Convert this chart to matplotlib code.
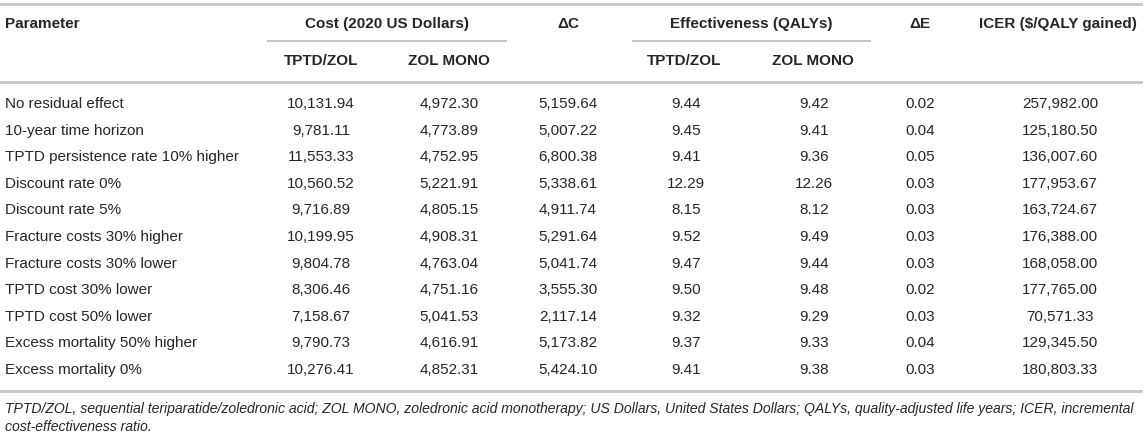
import matplotlib.pyplot as plt
import numpy as np

plt.rcParams['font.family'] = ['Liberation Sans', 'DejaVu Sans']

parameters = ["No residual effect", "10-year time horizon", "TPTD persistence rate 10% higher",
              "Discount rate 0%", "Discount rate 5%", "Fracture costs 30% higher",
              "Fracture costs 30% lower", "TPTD cost 30% lower", "TPTD cost 50% lower",
              "Excess mortality 50% higher", "Excess mortality 0%"]
cost_tptd = [10131.94, 9781.11, 11553.33, 10560.52, 9716.89, 10199.95, 9804.78, 8306.46, 7158.67, 9790.73, 10276.41]
cost_zol = [4972.30, 4773.89, 4752.95, 5221.91, 4805.15, 4908.31, 4763.04, 4751.16, 5041.53, 4616.91, 4852.31]
delta_c = [5159.64, 5007.22, 6800.38, 5338.61, 4911.74, 5291.64, 5041.74, 3555.30, 2117.14, 5173.82, 5424.10]
eff_tptd = [9.44, 9.45, 9.41, 12.29, 8.15, 9.52, 9.47, 9.50, 9.32, 9.37, 9.41]
eff_zol = [9.42, 9.41, 9.36, 12.26, 8.12, 9.49, 9.44, 9.48, 9.29, 9.33, 9.38]
delta_e = [0.02, 0.04, 0.05, 0.03, 0.03, 0.03, 0.03, 0.02, 0.03, 0.04, 0.03]
icer = [257982.00, 125180.50, 136007.60, 177953.67, 163724.67, 176388.00, 168058.00, 177765.00, 70571.33, 129345.50, 180803.33]

footnote_lines = ["TPTD/ZOL, sequential teriparatide/zoledronic acid; ZOL MONO, zoledronic acid monotherapy; "
                  "US Dollars, United States Dollars; QALYs, quality-adjusted life years; ICER, incremental",
                  "cost-effectiveness ratio."]

W, H = 1145, 436
fig = plt.figure(figsize=(W / 100, H / 100), dpi=100)
ax = fig.add_axes([0, 0, 1, 1])
ax.set_xlim(0, W)
ax.set_ylim(H, 0)
ax.axis('off')

txt = '#262626'
line_c = '#c4c4c4'
fs = 11

# column centres
col_x = [321, 449, 568, 686, 814, 920, 1060]

# horizontal rules
ax.plot([0, 1141], [4, 4], color=line_c, lw=2)
ax.plot([268, 506], [41, 41], color=line_c, lw=1.5)
ax.plot([633, 870], [41, 41], color=line_c, lw=1.5)
ax.plot([0, 1141], [82, 82], color=line_c, lw=2)
ax.plot([0, 1141], [391, 391], color=line_c, lw=2)

# headers
hb = dict(fontsize=fs, fontweight='bold', color=txt, va='center')
ax.text(5, 24, "Parameter", ha='left', **hb)
ax.text(387, 24, "Cost (2020 US Dollars)", ha='center', **hb)
ax.text(568, 24, "\u0394C", ha='center', **hb)
ax.text(751, 24, "Effectiveness (QALYs)", ha='center', **hb)
ax.text(920, 24, "\u0394E", ha='center', **hb)
ax.text(1058, 24, "ICER ($/QALY gained)", ha='center', **hb)
for x, s in zip([321, 449, 684, 813], ["TPTD/ZOL", "ZOL MONO", "TPTD/ZOL", "ZOL MONO"]):
    ax.text(x, 61, s, ha='center', **hb)

# body rows
row_y = 104 + np.arange(len(parameters)) * 26.6
cols = [cost_tptd, cost_zol, delta_c, eff_tptd, eff_zol, delta_e, icer]
for i, y in enumerate(row_y):
    ax.text(5, y, parameters[i], ha='left', va='center', fontsize=fs, color=txt)
    for x, col in zip(col_x, cols):
        ax.text(x, y, f"{col[i]:,.2f}", ha='center', va='center', fontsize=fs, color=txt)

for y, s in zip([409, 427], footnote_lines):
    ax.text(5, y, s, ha='left', va='center', fontsize=10.1, style='italic', color=txt)

fig.savefig("out.png", dpi=100)
